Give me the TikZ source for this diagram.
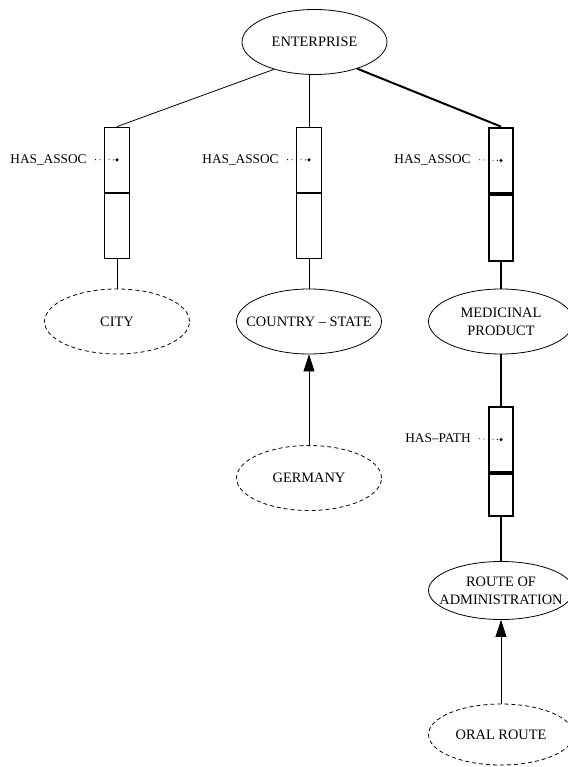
\documentclass[tikz,border=0pt]{standalone}
\usepackage{fontspec}
\setmainfont{Liberation Serif}
\usetikzlibrary{arrows.meta, shapes.geometric}

\begin{document}
\begin{tikzpicture}[x=1pt, y=-1pt, line width=0.8pt,
    entity/.style={draw, ellipse, minimum width=145pt, minimum height=65pt, inner xsep=-18pt, inner ysep=0pt, align=center, font=\fontsize{14.4}{18}\selectfont},
    instance/.style={entity, dash pattern=on 4pt off 3pt},
    slot/.style={draw, rectangle, minimum width=24.5pt, inner sep=0pt, anchor=north},
    rel/.style={anchor=east, inner sep=0pt, font=\fontsize{13.3}{16}\selectfont},
    reldot/.style={dash pattern=on 1pt off 3.5pt, shorten <=8pt},
    heavy/.style={line width=2pt},
    isa/.style={-{Triangle[length=17pt, width=11pt]}}]
    \useasboundingbox (0,0) rectangle (567,767);
    \node[entity] (ent) at (314.5,42) {ENTERPRISE};
    \node[slot, minimum height=65.8pt] (a1) at (117,126.6) {};
    \node[slot, minimum height=65.1pt] (a1b) at (a1.south) {};
    \node[slot, minimum height=65.8pt] (a2) at (309,126.6) {};
    \node[slot, minimum height=65.1pt] (a2b) at (a2.south) {};
    \node[slot, heavy, minimum height=65.8pt] (a3) at (501,126.6) {};
    \node[slot, heavy, minimum height=65.1pt] (a3b) at (a3.south) {};
    \node[rel] (h1) at (87,159.5) {HAS\_ASSOC};
    \node[rel] (h2) at (279,159.5) {HAS\_ASSOC};
    \node[rel] (h3) at (471,159.5) {HAS\_ASSOC};
    \draw[reldot] (h1.east) -- (a1.center); \fill (a1.center) circle (1.7pt);
    \draw[reldot] (h2.east) -- (a2.center); \fill (a2.center) circle (1.7pt);
    \draw[reldot] (h3.east) -- (a3.center); \fill (a3.center) circle (1.7pt);
    \draw (ent.214) -- (a1.north);
    \draw (a2.north) -- (a2.north |- ent.south);
    \draw[heavy] (ent.328) -- (a3.north);
    \node[instance] (city) at (117,321.5) {CITY};
    \node[entity] (cty) at (309,321.5) {COUNTRY -- STATE};
    \node[entity] (med) at (501,321.5) {MEDICINAL\\PRODUCT};
    \draw (a1b.south) -- (city.north);
    \draw (a2b.south) -- (cty.north);
    \draw[heavy] (a3b.south) -- (med.north);
    \node[instance] (ger) at (309,478) {GERMANY};
    \draw[isa] (ger.north) -- (cty.south);
    \node[slot, heavy, minimum height=64.3pt] (p1) at (501,406.4) {};
    \node[slot, heavy, minimum height=42.6pt] (p1b) at (p1.south) {};
    \node[rel] (hp) at (471,438.5) {HAS--PATH};
    \draw[reldot] (hp.east) -- (p1.center); \fill (p1.center) circle (1.7pt);
    \draw[heavy] (med.south) -- (p1.north);
    \node[entity, minimum height=58pt] (roa) at (501,590.5) {ROUTE OF\\ADMINISTRATION};
    \draw[heavy] (p1b.south) -- (roa.north);
    \node[instance, minimum height=61pt] (oral) at (501,734.5) {ORAL ROUTE};
    \draw[isa] (oral.north) -- (roa.south);
\end{tikzpicture}
\end{document}
